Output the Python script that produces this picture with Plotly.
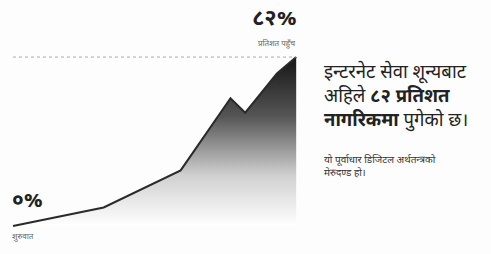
import plotly.graph_objects as go

# data (x = relative time position, y = internet access percent)
x_vals = [0, 8, 14.8, 19.2, 20.5, 23.3, 25]
access_pct = [0, 9, 27, 62, 55, 74, 82]
start_label = "०%"
start_sub = "शुरुवात"
end_label = "८२%"
end_sub = "प्रतिशत पहुँच"
headline = [
    "इन्टरनेट सेवा शून्यबाट",
    "अहिले <b>८२ प्रतिशत</b>",
    "<b>नागरिकमा</b> पुगेको छ।",
]
subline = ["यो पूर्वाधार डिजिटल अर्थतन्त्रको", "मेरुदण्ड हो।"]

fig = go.Figure()
fig.add_trace(go.Scatter(
    x=x_vals, y=access_pct, mode="lines", fill="tozeroy",
    line=dict(color="#2a2a2a", width=2),
    fillgradient=dict(type="vertical",
                      colorscale=[[0, "rgba(255,255,255,1)"], [0.3, "#d0d0d0"], [0.65, "#555555"], [1, "#151515"]]),
    hoverinfo="skip", showlegend=False,
))
# dotted reference line at max
fig.add_trace(go.Scatter(
    x=[x_vals[0], x_vals[-1]], y=[access_pct[-1], access_pct[-1]], mode="lines",
    line=dict(color="#aaaaaa", width=1, dash="dot"), hoverinfo="skip", showlegend=False,
))

font_family = "Noto Sans Devanagari, Noto Sans, sans-serif"
ann = []
ann.append(dict(x=x_vals[0], y=access_pct[0] + 4, text=f"<b>{start_label}</b>", xanchor="left", yanchor="bottom",
                xshift=-3, showarrow=False, font=dict(size=21, color="#222")))
ann.append(dict(x=x_vals[0], y=access_pct[0] - 2, text=start_sub, xanchor="left", yanchor="top",
                xshift=-3, showarrow=False, font=dict(size=8, color="#666")))
ann.append(dict(x=x_vals[-1], y=access_pct[-1] + 10, text=f"<b>{end_label}</b>", xanchor="right", yanchor="bottom",
                xshift=3, showarrow=False, font=dict(size=22, color="#222")))
ann.append(dict(x=x_vals[-1], y=access_pct[-1] + 3, text=end_sub, xanchor="right", yanchor="bottom",
                xshift=2, showarrow=False, font=dict(size=8, color="#666")))
ann.append(dict(xref="paper", yref="paper", x=0.655, y=0.77, text="<br>".join(headline), xanchor="left", yanchor="top",
                align="left", showarrow=False, font=dict(size=18.5, color="#222")))
ann.append(dict(xref="paper", yref="paper", x=0.655, y=0.40, text="<br>".join(subline), xanchor="left", yanchor="top",
                align="left", showarrow=False, font=dict(size=10, color="#333")))

fig.update_layout(
    width=491, height=254, margin=dict(l=0, r=0, t=0, b=0),
    paper_bgcolor="#fdfdfd", plot_bgcolor="#fdfdfd",
    font=dict(family=font_family),
    xaxis=dict(range=[-1.15, 42.2], visible=False, fixedrange=True),
    yaxis=dict(range=[-13.6, 109.7], visible=False, fixedrange=True),
    annotations=ann,
)
fig.write_html("out.html", config=dict(displayModeBar=False),
               post_script="document.body.style.margin='0';")
